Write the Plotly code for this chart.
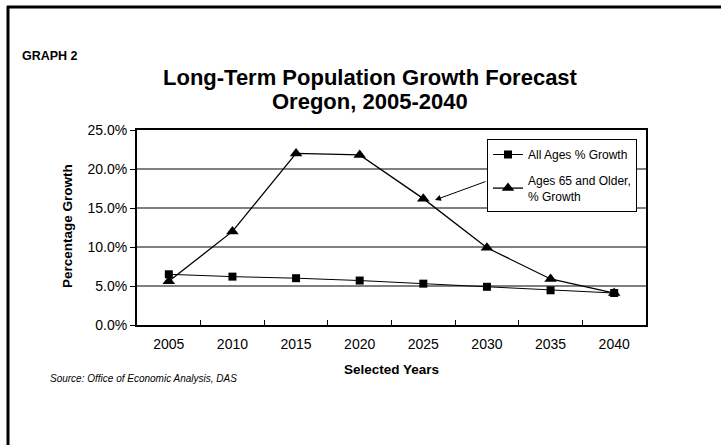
import plotly.graph_objects as go

years = ["2005", "2010", "2015", "2020", "2025", "2030", "2035", "2040"]
all_ages = [6.5, 6.2, 6.0, 5.7, 5.3, 4.9, 4.45, 4.1]
ages_65 = [5.6, 12.0, 22.0, 21.8, 16.2, 9.9, 5.9, 4.1]
y_ticks = [0, 5, 10, 15, 20, 25]

FONT = "Arial, Liberation Sans, sans-serif"
W, H = 721, 445
L, R, T, B = 137, 646, 130, 325

def px(x):
    return (x - L) / (R - L)

def py(y):
    return (B - y) / (B - T)

fig = go.Figure()
fig.add_trace(go.Scatter(
    x=years, y=all_ages, mode="lines+markers", name="All Ages % Growth",
    line=dict(color="black", width=1),
    marker=dict(symbol="square", size=8, color="black"),
    legendgroup="a",
))
fig.add_trace(go.Scatter(
    x=years, y=ages_65, mode="lines+markers", name="Ages 65 and Older,<br>% Growth",
    line=dict(color="black", width=1.3),
    marker=dict(symbol="triangle-up", size=11, color="black"),
    legendgroup="b",
))

fig.update_layout(
    width=W, height=H,
    margin=dict(l=L, r=W - R, t=T, b=H - B, autoexpand=False),
    paper_bgcolor="white", plot_bgcolor="white",
    font=dict(family=FONT, size=14, color="black"),
    showlegend=True,
    legend=dict(
        x=px(487), y=py(139), xanchor="left", yanchor="top",
        bordercolor="black", borderwidth=1, bgcolor="white",
        font=dict(family=FONT, size=12, color="black"),
        traceorder="grouped", tracegroupgap=7,
        itemwidth=30,
    ),
    xaxis=dict(
        type="category", range=[-0.5, 7.5],
        showline=True, linecolor="black", linewidth=2, mirror=True,
        ticks="inside", tickson="boundaries", ticklen=5, tickcolor="black",
        showgrid=False, tickfont=dict(size=14), fixedrange=True,
        ticklabelstandoff=5,
    ),
    yaxis=dict(
        range=[0, 25], tickvals=y_ticks,
        ticktext=[f"{v:.1f}%" for v in y_ticks],
        showline=True, linecolor="black", linewidth=2, mirror=True,
        ticks="outside", ticklen=5, tickcolor="black",
        showgrid=True, gridcolor="#808080", gridwidth=1.5,
        tickfont=dict(size=14), zeroline=False, fixedrange=True,
    ),
)

ann = [
    dict(text="<b>GRAPH 2</b>", x=px(20), y=py(56), xanchor="left", yanchor="middle",
         font=dict(size=12.5)),
    dict(text="<b>Long-Term Population Growth Forecast</b>", x=px(370), y=py(77),
         xanchor="center", yanchor="middle", font=dict(size=22)),
    dict(text="<b>Oregon, 2005-2040</b>", x=px(370), y=py(101),
         xanchor="center", yanchor="middle", font=dict(size=22)),
    dict(text="<b>Percentage Growth</b>", x=px(67), y=py(226), textangle=-90,
         xanchor="center", yanchor="middle", font=dict(size=13.5)),
    dict(text="<b>Selected Years</b>", x=px(391), y=py(369),
         xanchor="center", yanchor="middle", font=dict(size=13.5)),
    dict(text="<i>Source: Office of Economic Analysis, DAS</i>", x=px(48), y=py(378),
         xanchor="left", yanchor="middle", font=dict(size=10)),
]
for a in ann:
    a.update(xref="paper", yref="paper", showarrow=False)
    fig.add_annotation(**a)

fig.add_annotation(
    xref="paper", yref="paper", x=px(435), y=py(200), text="",
    showarrow=True, ax=52, ay=-19, arrowhead=2, arrowsize=1.2, arrowwidth=1,
    arrowcolor="black",
)

# outer frame (left and top)
fig.add_shape(type="line", xref="paper", yref="paper",
              x0=px(8), x1=px(8), y0=py(6), y1=py(445), line=dict(color="black", width=3))
fig.add_shape(type="line", xref="paper", yref="paper",
              x0=px(7), x1=px(721), y0=py(7), y1=py(7), line=dict(color="black", width=3))

fig.write_html("out.html")
